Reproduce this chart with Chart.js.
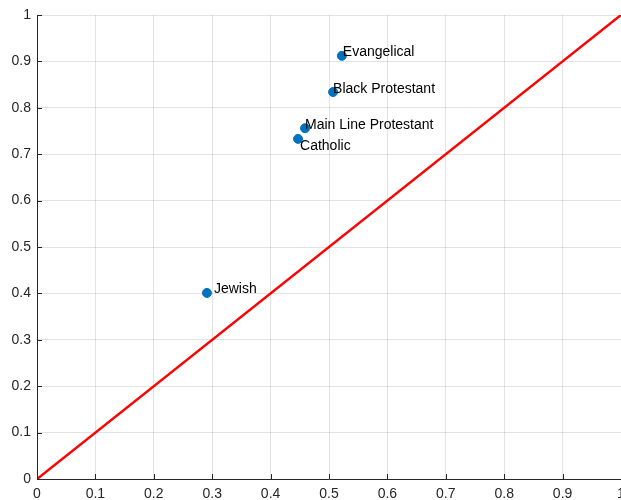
<!DOCTYPE html>
<html>
<head>
<meta charset="utf-8">
<style>
  html, body { margin: 0; padding: 0; background: #fff; }
  #wrap { width: 621px; height: 500px; position: relative; }
</style>
<script src="https://cdn.jsdelivr.net/npm/chart.js@4/dist/chart.umd.min.js"></script>
</head>
<body>
<div id="wrap"><canvas id="c" width="621" height="500"></canvas></div>
<script>
// Religious groups and their two measures
const groups = ['Evangelical', 'Black Protestant', 'Main Line Protestant', 'Catholic', 'Jewish'];
const xValues = [0.522, 0.507, 0.459, 0.447, 0.291];
const yValues = [0.912, 0.834, 0.756, 0.733, 0.401];
const tickValues = [0, 0.1, 0.2, 0.3, 0.4, 0.5, 0.6, 0.7, 0.8, 0.9, 1];

// Pixel nudges for each text label relative to its marker
const labelNudge = [[1, -4], [0, -3], [0, -3], [2, 7], [7, -4]];

const axisColor = '#262626';
const gridColor = 'rgba(38,38,38,0.13)';
const fontFamily = '"Liberation Sans", Arial, Helvetica, sans-serif';

// Inward tick marks along the left and bottom axes
const innerTicks = {
  id: 'innerTicks',
  afterDatasetsDraw(chart) {
    const ctx = chart.ctx;
    const xs = chart.scales.x, ys = chart.scales.y;
    const area = chart.chartArea;
    ctx.save();
    ctx.strokeStyle = axisColor;
    ctx.lineWidth = 1;
    ctx.beginPath();
    tickValues.forEach(v => {
      const px = Math.round(xs.getPixelForValue(v)) + 0.5;
      ctx.moveTo(px, area.bottom);
      ctx.lineTo(px, area.bottom - 5);
      const py = Math.round(ys.getPixelForValue(v)) + 0.5;
      ctx.moveTo(area.left, py);
      ctx.lineTo(area.left + 5, py);
    });
    ctx.stroke();
    ctx.restore();
  }
};

// Group names written beside the markers
const pointLabels = {
  id: 'pointLabels',
  afterDatasetsDraw(chart) {
    const ctx = chart.ctx;
    const meta = chart.getDatasetMeta(1);
    ctx.save();
    ctx.font = '14px ' + fontFamily;
    ctx.fillStyle = '#000';
    ctx.textAlign = 'left';
    ctx.textBaseline = 'middle';
    meta.data.forEach((pt, i) => {
      ctx.fillText(groups[i], pt.x + labelNudge[i][0], pt.y + labelNudge[i][1]);
    });
    ctx.restore();
  }
};

const fixedY = function (scale) { scale.width = 37; scale.paddingTop = 0; scale.paddingBottom = 0; };
const fixedX = function (scale) { scale.height = 21; scale.paddingLeft = 0; scale.paddingRight = 0; };

new Chart(document.getElementById('c'), {
  type: 'scatter',
  data: {
    datasets: [
      {
        type: 'line',
        label: 'y = x',
        data: [{ x: 0, y: 0 }, { x: 1, y: 1 }],
        borderColor: '#ff0000',
        borderWidth: 2.5,
        pointRadius: 0,
        fill: false,
        order: 1
      },
      {
        label: 'groups',
        data: xValues.map((x, i) => ({ x: x, y: yValues[i] })),
        backgroundColor: '#0072BD',
        borderColor: '#0072BD',
        pointRadius: 4.5,
        pointHoverRadius: 4.5,
        order: 0
      }
    ]
  },
  options: {
    responsive: false,
    animation: false,
    devicePixelRatio: 1,
    layout: { autoPadding: false, padding: { top: 15, right: 0, left: 0, bottom: 0 } },
    plugins: { legend: { display: false }, tooltip: { enabled: false } },
    scales: {
      x: {
        type: 'linear',
        min: 0, max: 1,
        afterFit: fixedX,
        afterBuildTicks(scale) { scale.ticks = tickValues.map(v => ({ value: v })); },
        grid: { color: gridColor, drawTicks: false },
        border: { color: axisColor, width: 1 },
        ticks: {
          color: axisColor,
          padding: 7,
          maxRotation: 0,
          autoSkip: false,
          font: { family: fontFamily, size: 14 },
          callback: v => String(v)
        }
      },
      y: {
        type: 'linear',
        min: 0, max: 1,
        afterFit: fixedY,
        afterBuildTicks(scale) { scale.ticks = tickValues.map(v => ({ value: v })); },
        grid: { color: gridColor, drawTicks: false },
        border: { color: axisColor, width: 1 },
        ticks: {
          color: axisColor,
          padding: 6,
          autoSkip: false,
          font: { family: fontFamily, size: 14 },
          callback: v => String(v)
        }
      }
    }
  },
  plugins: [innerTicks, pointLabels]
});
</script>
</body>
</html>
